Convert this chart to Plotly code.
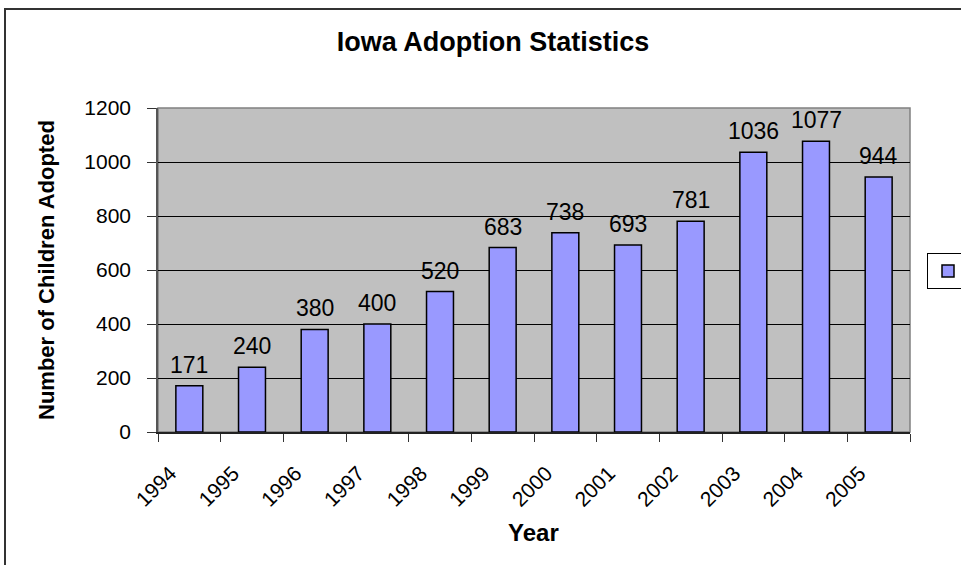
import plotly.graph_objects as go

# Iowa adoption counts by year
years = ["1994", "1995", "1996", "1997", "1998", "1999",
         "2000", "2001", "2002", "2003", "2004", "2005"]
adopted = [171, 240, 380, 400, 520, 683, 738, 693, 781, 1036, 1077, 944]

y_ticks = [0, 200, 400, 600, 800, 1000, 1200]

FONT = "Arial, Liberation Sans, sans-serif"

W, H = 961, 565
L, R, T, B = 158, 51, 108, 133
PW, PH = W - L - R, H - T - B


def px_x(px):
    return (px - L) / PW


def px_y(py):
    return (H - B - py) / PH


fig = go.Figure()
fig.add_trace(go.Bar(
    x=years,
    y=adopted,
    name=" ",
    marker=dict(color="#9999FF", line=dict(color="black", width=1.5)),
    showlegend=True,
))

# value labels above each bar (category position = index)
for i, v in enumerate(adopted):
    fig.add_annotation(
        x=i, y=v, text=str(v),
        xanchor="center", yanchor="bottom", yshift=6,
        showarrow=False,
        font=dict(family=FONT, size=23, color="black"),
    )

fig.update_layout(
    width=W, height=H,
    margin=dict(l=L, r=R, t=T, b=B, pad=0, autoexpand=False),
    paper_bgcolor="white",
    plot_bgcolor="#C0C0C0",
    bargap=0.57,
    font=dict(family=FONT, color="black"),
    title=dict(
        text="<b>Iowa Adoption Statistics</b>",
        font=dict(family=FONT, size=27, color="black"),
        x=493 / W, xanchor="center",
        y=1 - 42 / H, yanchor="middle",
    ),
    showlegend=True,
    legend=dict(
        x=px_x(927), xanchor="left",
        y=px_y(271), yanchor="middle",
        bgcolor="white",
        bordercolor="black", borderwidth=1,
        itemwidth=30,
        font=dict(family=FONT, size=16),
    ),
)

fig.update_xaxes(
    type="category",
    categoryorder="array", categoryarray=years,
    range=[-0.5, len(years) - 0.5],
    tickson="boundaries",
    ticks="outside", ticklen=8, tickcolor="#333333", tickwidth=1,
    tickangle=-45,
    ticklabelstandoff=19,
    ticklabelshift=-19,
    tickfont=dict(family=FONT, size=21, color="black"),
    showline=True, linecolor="#222222", linewidth=1.5,
    showgrid=False,
    mirror=False,
)
fig.update_yaxes(
    range=[0, 1200],
    tickvals=y_ticks,
    ticks="outside", ticklen=9, tickcolor="#333333", tickwidth=1,
    ticklabelstandoff=12,
    tickfont=dict(family=FONT, size=21, color="black"),
    showline=True, linecolor="#555555", linewidth=1.5,
    showgrid=True, gridcolor="black", gridwidth=1,
    zeroline=False,
)

# gray frame on the top and right edges of the plot area
fig.add_shape(type="rect", xref="paper", yref="paper",
              x0=0, x1=1, y0=0, y1=1,
              line=dict(color="#808080", width=1.5), layer="below")

# chart-area border
fig.add_shape(type="rect", xref="paper", yref="paper",
              x0=px_x(5), x1=px_x(1000), y0=px_y(620), y1=px_y(9),
              line=dict(color="#333333", width=2))

fig.add_annotation(
    text="<b>Number of Children Adopted</b>",
    xref="paper", yref="paper",
    x=px_x(46), y=px_y(270), textangle=-90,
    xanchor="center", yanchor="middle", showarrow=False,
    font=dict(family=FONT, size=22, color="black"),
)
fig.add_annotation(
    text="<b>Year</b>",
    xref="paper", yref="paper",
    x=px_x(533), y=px_y(532),
    xanchor="center", yanchor="middle", showarrow=False,
    font=dict(family=FONT, size=24, color="black"),
)

fig.write_html("out.html")
